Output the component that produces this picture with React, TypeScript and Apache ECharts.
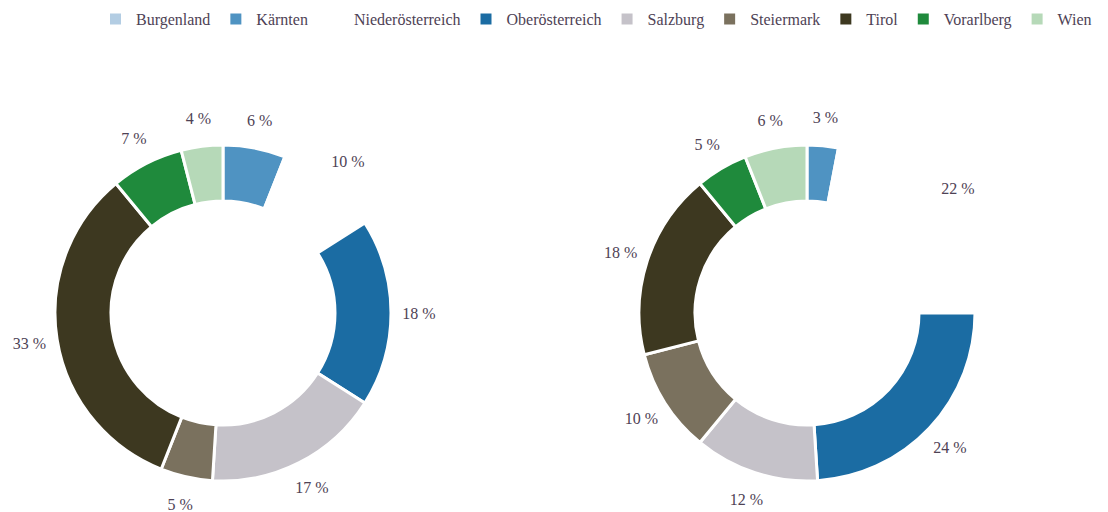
import React, { useEffect, useRef } from "react";
import * as echarts from "echarts";

const categories = [
  "Burgenland",
  "Kärnten",
  "Niederösterreich",
  "Oberösterreich",
  "Salzburg",
  "Steiermark",
  "Tirol",
  "Vorarlberg",
  "Wien",
];
const leftValues = [0, 6, 10, 18, 17, 5, 33, 7, 4];
const rightValues = [0, 3, 22, 24, 12, 10, 18, 5, 6];
const colors = [
  "#b3cde3",
  "#4f93c2",
  "#ffffff",
  "#1b6ca3",
  "#c5c2c9",
  "#7a715e",
  "#3d3820",
  "#1f8a3c",
  "#b6d9b8",
];

const FONT = '"Liberation Serif", "DejaVu Serif", serif';
const TEXT_COLOR = "#4e4255";

function buildData(values: number[]) {
  return categories.map((name, i) => ({
    name,
    value: values[i],
    itemStyle: { color: colors[i] },
  }));
}

function visibleSeries(values: number[], center: number[]) {
  return {
    type: "pie",
    center,
    radius: [112, 168],
    startAngle: 90,
    clockwise: true,
    silent: true,
    itemStyle: { borderColor: "#ffffff", borderWidth: 3 },
    label: { show: false },
    labelLine: { show: false },
    data: buildData(values),
  };
}

function labelSeries(values: number[], center: number[]) {
  return {
    type: "pie",
    center,
    radius: [166, 220],
    startAngle: 90,
    clockwise: true,
    silent: true,
    itemStyle: { color: "rgba(0,0,0,0)" },
    label: {
      show: true,
      position: "inside",
      color: TEXT_COLOR,
      fontFamily: FONT,
      fontSize: 16,
      rotate: 0,
      formatter: (p: any) => (p.value ? `${p.value} %` : ""),
    },
    labelLine: { show: false },
    data: categories.map((name, i) => ({ name, value: values[i] })),
  };
}

export default function App() {
  const ref = useRef<HTMLDivElement>(null);
  useEffect(() => {
    if (!ref.current) return;
    const chart = echarts.init(ref.current, undefined, { renderer: "svg" });
    const leftCenter = [223, 313];
    const rightCenter = [807, 313];
    chart.setOption({
      animation: false,
      backgroundColor: "#ffffff",
      legend: {
        top: 11,
        left: 108,
        padding: 0,
        icon: "rect",
        itemWidth: 13,
        itemHeight: 13,
        itemGap: 18,
        selectedMode: false,
        data: categories,
        textStyle: {
          fontFamily: FONT,
          fontSize: 16,
          color: TEXT_COLOR,
          padding: [0, 0, 0, 9],
        },
      },
      series: [
        visibleSeries(leftValues, leftCenter),
        visibleSeries(rightValues, rightCenter),
        labelSeries(leftValues, leftCenter),
        labelSeries(rightValues, rightCenter),
      ],
    });
    return () => chart.dispose();
  }, []);
  return (
    <div
      ref={ref}
      style={{ position: "absolute", left: 0, top: 0, width: 1108, height: 512 }}
    />
  );
}
